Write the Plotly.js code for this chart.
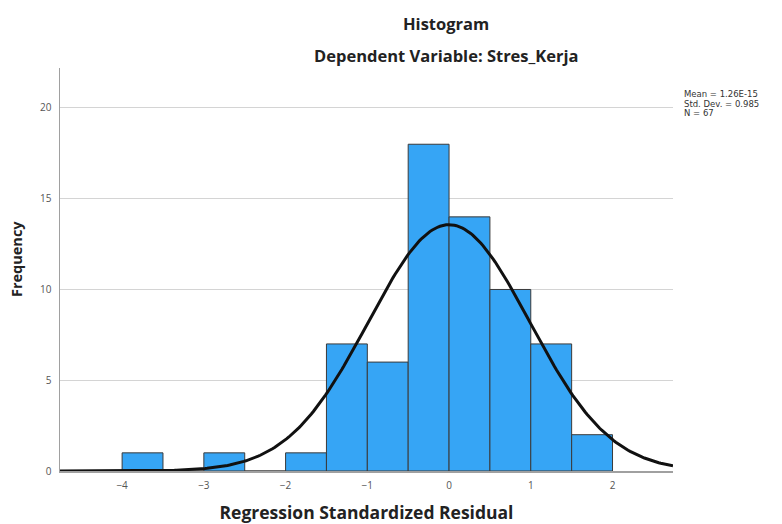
<!DOCTYPE html>
<html>
<head>
<meta charset="utf-8">
<script src="https://cdn.plot.ly/plotly-3.0.1.min.js"></script>
<style>html,body{margin:0;padding:0;background:#fff;}#chart{width:782px;height:524px;}</style>
</head>
<body>
<div id="chart"></div>
<script>
// Histogram bins (left edges) and frequencies
const binLeft = [-4, -3.5, -3, -2.5, -2, -1.5, -1, -0.5, 0, 0.5, 1, 1.5];
const counts  = [1, 0, 1, 0, 1, 7, 6, 18, 14, 10, 7, 2];
const binWidth = 0.5;

// Statistics shown on the chart
const statMean = 1.26e-15;
const statSD = 0.985;
const statN = 67;
const statLabels = ["Mean = 1.26E-15", "Std. Dev. = 0.985", "N = 67"];

const xTicks = [-4, -3, -2, -1, 0, 1, 2];
const yTicks = [0, 5, 10, 15, 20];

// Normal curve overlay (defined by the displayed mean, SD and N)
const xMin = -4.76, xMax = 2.74;
const cx = [], cy = [];
for (let i = 0; i <= 300; i++) {
  const x = xMin + (xMax - xMin) * i / 300;
  const z = (x - statMean) / statSD;
  cx.push(x);
  cy.push(statN * binWidth * Math.exp(-0.5 * z * z) / (statSD * Math.sqrt(2 * Math.PI)));
}

const font = "'Open Sans', 'Noto Sans', sans-serif";
const smallFont = "'DejaVu Sans', sans-serif";

const traces = [
  {
    type: 'bar',
    x: binLeft,
    y: counts,
    offset: 0,
    width: binWidth,
    marker: {color: '#36a5f5', line: {color: '#3a3a3a', width: 1}},
    hoverinfo: 'skip'
  },
  {
    type: 'scatter',
    mode: 'lines',
    x: cx,
    y: cy,
    line: {color: '#111111', width: 3},
    hoverinfo: 'skip'
  }
];

const statAnnotations = statLabels.map((t, i) => ({
  text: t, xref: 'paper', yref: 'paper', x: 1, xshift: 9, y: 1, yshift: -26 - 9.5 * i,
  xanchor: 'left', yanchor: 'middle', align: 'left', showarrow: false,
  font: {size: 8.5, color: '#333', family: smallFont}
}));

const layout = {
  width: 782,
  height: 524,
  margin: {l: 60, r: 109, t: 68, b: 53},
  paper_bgcolor: '#ffffff',
  plot_bgcolor: '#ffffff',
  showlegend: false,
  bargap: 0,
  font: {family: font, color: '#222'},
  xaxis: {
    range: [xMin, xMax],
    tickvals: xTicks,
    ticktext: xTicks.map(v => v < 0 ? '\u2212' + Math.abs(v) : String(v)),
    showgrid: false,
    zeroline: false,
    showline: true,
    linecolor: '#a0a0a0',
    linewidth: 1.5,
    ticks: '',
    ticklabelstandoff: 4,
    tickfont: {size: 10, color: '#555', family: font},
    title: {text: '<b>Regression Standardized Residual</b>', font: {size: 17.5, color: '#222', family: font}, standoff: 20}
  },
  yaxis: {
    range: [0, 22.2],
    tickvals: yTicks,
    showgrid: true,
    gridcolor: '#d4d4d4',
    gridwidth: 1,
    zeroline: false,
    showline: true,
    linecolor: '#a0a0a0',
    linewidth: 1.5,
    ticks: '',
    ticklabelstandoff: 5,
    tickfont: {size: 10, color: '#555', family: font}
  },
  annotations: [
    {text: '<b>Histogram</b>', xref: 'paper', yref: 'paper', x: 0.630, y: 1, yshift: 45, xanchor: 'center', yanchor: 'middle', showarrow: false, font: {size: 16.5, color: '#222', family: font}},
    {text: '<b>Dependent Variable: Stres_Kerja</b>', xref: 'paper', yref: 'paper', x: 0.630, y: 1, yshift: 13, xanchor: 'center', yanchor: 'middle', showarrow: false, font: {size: 16.5, color: '#222', family: font}},
    {text: '<b>Frequency</b>', xref: 'paper', yref: 'paper', x: 0, xshift: -44, y: 0.526, xanchor: 'center', yanchor: 'middle', textangle: -90, showarrow: false, font: {size: 14.5, color: '#222', family: font}}
  ].concat(statAnnotations)
};

Plotly.newPlot('chart', traces, layout, {displayModeBar: false, staticPlot: true});
</script>
</body>
</html>
